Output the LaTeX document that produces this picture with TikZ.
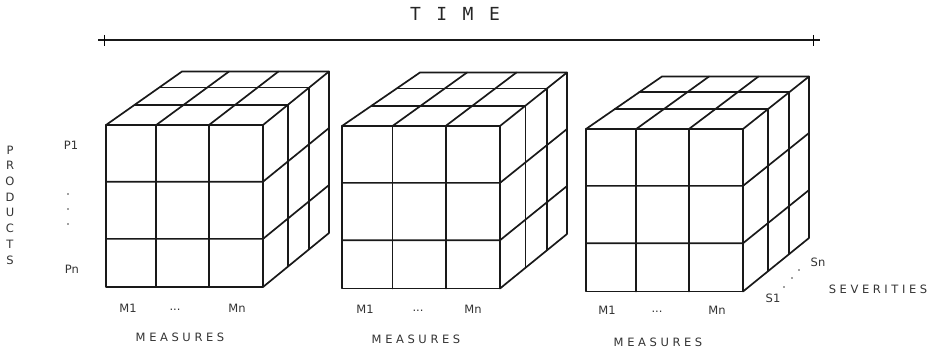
\documentclass[tikz,border=0pt]{standalone}
\usepackage{fontspec}
\setmainfont{DejaVu Sans}
\newfontfamily\monofnt{DejaVu Sans Mono}
\usetikzlibrary{calc}
\newcommand\lsp{\hspace{3.6pt}}
\newcommand\drawcube[9]{%
  \coordinate (#1ftl) at (#2,#4);
  \coordinate (#1ftr) at (#3,#4);
  \coordinate (#1fbl) at (#2,#5);
  \coordinate (#1fbr) at (#3,#5);
  \coordinate (#1btl) at (#6,#8);
  \coordinate (#1btr) at (#7,#8);
  \coordinate (#1bbr) at (#7,#9);
  \draw[cubeline] (#1ftl) rectangle (#1fbr);
  \foreach \c in {0.32,0.656}
    \draw[cubeline] ($(#1ftl)!\c!(#1ftr)$) -- ($(#1fbl)!\c!(#1fbr)$);
  \foreach \r in {0.35,0.703}
    \draw[cubeline] ($(#1ftl)!\r!(#1fbl)$) -- ($(#1ftr)!\r!(#1fbr)$) -- ($(#1btr)!\r!(#1bbr)$);
  \draw[cubeline] (#1ftl) -- (#1btl) -- (#1btr) -- (#1bbr) -- (#1fbr);
  \draw[cubeline] (#1ftr) -- (#1btr);
  \foreach \c in {0.32,0.656}
    \draw[cubeline] ($(#1ftl)!\c!(#1ftr)$) -- ($(#1btl)!\c!(#1btr)$);
  \foreach \d in {0.38,0.70}
    \draw[cubeline] ($(#1ftl)!\d!(#1btl)$) -- ($(#1ftr)!\d!(#1btr)$) -- ($(#1fbr)!\d!(#1bbr)$);
}
\begin{document}
\begin{tikzpicture}[x=1pt,y=-1pt,
  cubeline/.style={line width=1.7pt, line join=round, line cap=round, black!90},
  lbl/.style={inner sep=0pt, font=\fontsize{11.5}{13}\selectfont, text=black!80},
  dotn/.style={circle, fill=black!75, inner sep=0pt, minimum size=1.9pt}]
\useasboundingbox (0,0) rectangle (935,350);

% time axis
\node[inner sep=0pt, font=\monofnt\fontsize{18}{19}\selectfont, text=black!85] (time) at (455,14)
  {\makebox[26.3pt]{T}\makebox[26.3pt]{I}\makebox[26.3pt]{M}\makebox[26.3pt]{E}};
\coordinate (tl) at (98,40);
\coordinate (tr) at (820,40);
\coordinate (tka) at (104,35);
\coordinate (tkb) at (104,46);
\coordinate (tkc) at (813,35);
\coordinate (tkd) at (813,46);
\draw[line width=1.6pt, black!90] (tl) -- (tr);
\draw[line width=0.9pt] (tka) -- (tkb);
\draw[line width=0.9pt] (tkc) -- (tkd);

% cubes
\drawcube{a}{106}{263}{125}{287}{182}{329}{71.5}{233}
\drawcube{b}{342}{500}{126}{288.5}{420}{567}{72.5}{234}
\drawcube{c}{586}{743}{129}{291.5}{662}{809}{76.5}{238}

% products axis
\node[lbl, align=center, font=\fontsize{11.5}{15.7}\selectfont] (prod) at (10,205)
  {P\\R\\O\\D\\U\\C\\T\\S};
\node[lbl] (p1) at (71,145) {P1};
\node[dotn] (pd1) at (68,194) {};
\node[dotn] (pd2) at (68,209) {};
\node[dotn] (pd3) at (68,224) {};
\node[lbl] (pn) at (72,269) {Pn};

% measures labels
\node[lbl] (am1) at (128,308) {M1};
\node[lbl] (adt) at (175,310) {...};
\node[lbl] (amn) at (237,308) {Mn};
\node[lbl] (ams) at (180,337) {M\lsp E\lsp A\lsp S\lsp U\lsp R\lsp E\lsp S};

\node[lbl] (bm1) at (365,309) {M1};
\node[lbl] (bdt) at (418,311) {...};
\node[lbl] (bmn) at (473,309) {Mn};
\node[lbl] (bms) at (416,339) {M\lsp E\lsp A\lsp S\lsp U\lsp R\lsp E\lsp S};

\node[lbl] (cm1) at (607,310) {M1};
\node[lbl] (cdt) at (657,312) {...};
\node[lbl] (cmn) at (717,310) {Mn};
\node[lbl] (cms) at (658,342) {M\lsp E\lsp A\lsp S\lsp U\lsp R\lsp E\lsp S};

% severities
\node[lbl] (sn) at (818,262) {Sn};
\node[dotn] (sd1) at (799,270) {};
\node[dotn] (sd2) at (792,278) {};
\node[dotn] (sd3) at (784,287) {};
\node[lbl] (s1) at (773,298) {S1};
\node[lbl] (sev) at (878,289) {S\lsp E\lsp V\lsp E\lsp R\lsp I\lsp T\lsp I\lsp E\lsp S};
\end{tikzpicture}
\end{document}
